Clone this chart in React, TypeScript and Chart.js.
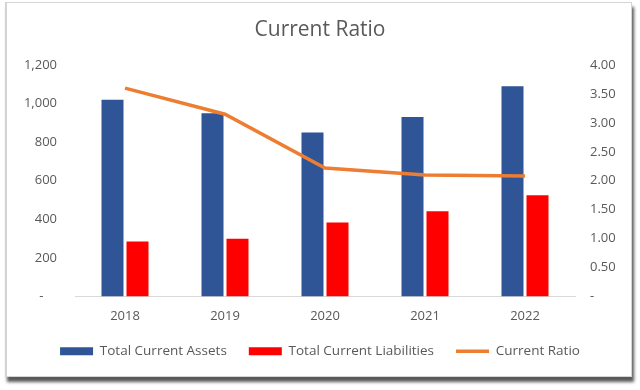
import React, { useEffect, useRef } from "react";
import { Chart, registerables } from "chart.js";

Chart.register(...registerables);

const years = ["2018", "2019", "2020", "2021", "2022"];
const totalCurrentAssets = [1020, 950, 850, 930, 1090];
const totalCurrentLiabilities = [285, 300, 384, 442, 525];
const currentRatio = [3.6, 3.15, 2.22, 2.1, 2.08];

const FONT = "'Open Sans', 'Noto Sans', sans-serif";
const TEXT = "#595959";

export default function App() {
  const ref = useRef<HTMLCanvasElement | null>(null);

  useEffect(() => {
    if (!ref.current) return;
    const chart = new Chart(ref.current, {
      type: "bar",
      data: {
        labels: years,
        datasets: [
          {
            type: "bar",
            label: "Total Current Assets",
            data: totalCurrentAssets,
            backgroundColor: "#2F5597",
            borderWidth: 0,
            yAxisID: "y",
            order: 1,
            pointStyle: "rect",
            categoryPercentage: 0.5,
            barPercentage: 0.88,
          },
          {
            type: "bar",
            label: "Total Current Liabilities",
            data: totalCurrentLiabilities,
            backgroundColor: "#FF0000",
            borderWidth: 0,
            yAxisID: "y",
            order: 2,
            pointStyle: "rect",
            categoryPercentage: 0.5,
            barPercentage: 0.88,
          },
          {
            type: "line",
            label: "Current Ratio",
            data: currentRatio,
            borderColor: "#ED7D31",
            backgroundColor: "#ED7D31",
            borderWidth: 3.5,
            pointRadius: 0,
            pointStyle: "line",
            tension: 0,
            yAxisID: "y1",
            order: 0,
          } as any,
        ],
      },
      options: {
        animation: false,
        responsive: false,
        maintainAspectRatio: false,
        layout: { padding: { left: 10, right: 10, top: 0, bottom: 22 } },
        plugins: {
          title: {
            display: true,
            text: "Current Ratio",
            color: TEXT,
            font: { family: FONT, size: 21, weight: "normal" },
            padding: { top: 17, bottom: 22.8 },
          },
          legend: {
            position: "bottom",
            labels: {
              usePointStyle: true,
              pointStyleWidth: 33,
              boxHeight: 8,
              padding: 22,
              color: TEXT,
              font: { family: FONT, size: 13.5 },
              sort: (a: any, b: any) => a.datasetIndex - b.datasetIndex,
            },
          },
          tooltip: { enabled: false },
        },
        scales: {
          x: {
            grid: { display: false, drawTicks: false },
            border: { display: true, color: "#d9d9d9", width: 1 },
            ticks: {
              color: TEXT,
              font: { family: FONT, size: 13 },
              padding: 12,
            },
            afterFit: (s: any) => {
              s.height = 26;
            },
          },
          y: {
            position: "left",
            min: 0,
            max: 1200,
            grid: { display: false, drawTicks: false },
            border: { display: false },
            ticks: {
              stepSize: 200,
              color: TEXT,
              font: { family: FONT, size: 13 },
              padding: 18,
              callback: (v: any) =>
                Number(v) === 0 ? "-    " : Number(v).toLocaleString("en-US"),
            },
            afterFit: (s: any) => {
              s.width = 65;
            },
          },
          y1: {
            position: "right",
            min: 0,
            max: 4,
            grid: { display: false, drawTicks: false },
            border: { display: false },
            ticks: {
              stepSize: 0.5,
              color: TEXT,
              font: { family: FONT, size: 13 },
              padding: 15,
              callback: (v: any) => (Number(v) === 0 ? "-" : Number(v).toFixed(2)),
            },
            afterFit: (s: any) => {
              s.width = 55;
            },
          },
        },
      },
    });
    return () => chart.destroy();
  }, []);

  return (
    <div
      style={{
        position: "fixed",
        left: 0,
        top: 0,
        width: 640,
        height: 390,
        background: "#ffffff",
      }}
    >
      <div
        style={{
          position: "absolute",
          left: 5,
          top: 2,
          width: 627,
          height: 375,
          boxSizing: "border-box",
          border: "1px solid #d4d4d4",
          borderLeftWidth: 2,
          background: "#ffffff",
          boxShadow: "2px 5px 3px rgba(0,0,0,0.65)",
        }}
      />
      <canvas
        ref={ref}
        width={640}
        height={390}
        style={{ position: "absolute", left: 0, top: 0, width: 640, height: 390 }}
      />
    </div>
  );
}
